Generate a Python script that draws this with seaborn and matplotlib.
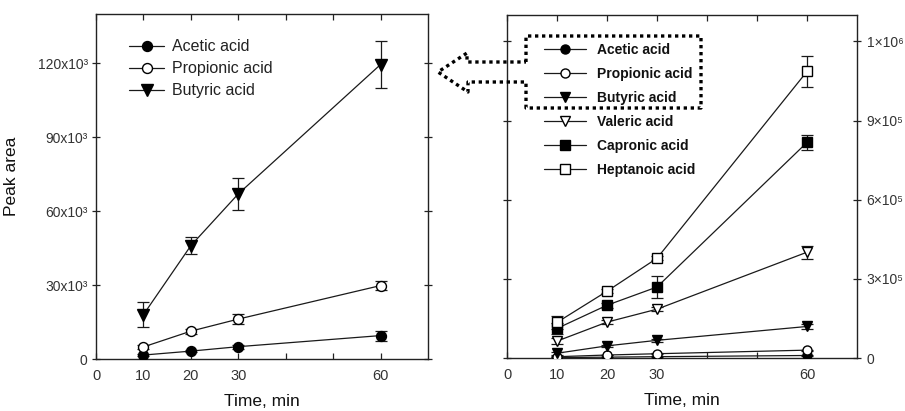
import numpy as np
import pandas as pd
import matplotlib
matplotlib.use("Agg")
import matplotlib.pyplot as plt
from matplotlib.lines import Line2D
from matplotlib.ticker import FixedLocator, FixedFormatter
import seaborn as sns

# Sampling times (min)
time = [10, 20, 30, 60]

# Mean peak areas and standard deviations per fatty acid
acetic = [1600, 3200, 5000, 9500]
acetic_sd = [300, 500, 800, 2000]
propionic = [4900, 11300, 16200, 29800]
propionic_sd = [800, 1000, 2000, 2000]
butyric = [18000, 46000, 67000, 119500]
butyric_sd = [5000, 3500, 6500, 9700]
valeric = [64000, 136000, 185000, 401000]
valeric_sd = [10000, 8000, 8000, 25000]
capronic = [112000, 200000, 269000, 817000]
capronic_sd = [20000, 10000, 42000, 30000]
heptanoic = [135000, 253000, 378000, 1086000]
heptanoic_sd = [25000, 8000, 8000, 60000]

names = ["Acetic acid", "Propionic acid", "Butyric acid",
         "Valeric acid", "Capronic acid", "Heptanoic acid"]
means = [acetic, propionic, butyric, valeric, capronic, heptanoic]
sds = [acetic_sd, propionic_sd, butyric_sd, valeric_sd, capronic_sd, heptanoic_sd]

x_ticks = [0, 10, 20, 30, 40, 50, 60]
x_labels = ["0", "10", "20", "30", "", "", "60"]
left_y_ticks = [0, 30000, 60000, 90000, 120000]
left_y_labels = ["0", "30x10³", "60x10³", "90x10³", "120x10³"]
right_y_ticks = [0, 300000, 600000, 900000, 1200000]
right_y_labels = ["0", "3×10⁵", "6×10⁵", "9×10⁵", "1×10⁶"]

rows = []
for n, m, s in zip(names, means, sds):
    for t, v, e in zip(time, m, s):
        rows.append({"acid": n, "time": t, "area": v, "sd": e})
df = pd.DataFrame(rows)

sns.set_theme(style="ticks")
plt.rcParams["font.family"] = ["Liberation Sans", "DejaVu Sans"]

styles = {
    "Acetic acid": dict(marker="o", mfc="black", ms=6.5),
    "Propionic acid": dict(marker="o", mfc="white", ms=6.5),
    "Butyric acid": dict(marker="v", mfc="black", ms=7.5),
    "Valeric acid": dict(marker="v", mfc="white", ms=7.5),
    "Capronic acid": dict(marker="s", mfc="black", ms=6.5),
    "Heptanoic acid": dict(marker="s", mfc="white", ms=6.5),
}
line_col = "#1a1a1a"

W, H = 905, 411
fig = plt.figure(figsize=(W / 100, H / 100), dpi=100)
fig.patch.set_facecolor("white")
ax1 = fig.add_axes([96 / W, 1 - 359 / H, 332 / W, 345 / H])
ax2 = fig.add_axes([507 / W, 1 - 358 / H, 350 / W, 343 / H])


def draw(ax, acids, scale_ms=1.0):
    handles = []
    for n in acids:
        sub = df[df["acid"] == n]
        st = styles[n]
        ax.errorbar(sub["time"], sub["area"], yerr=sub["sd"], fmt="none",
                    ecolor=line_col, elinewidth=0.9, capsize=4, capthick=0.9,
                    zorder=2)
        sns.lineplot(data=sub, x="time", y="area", ax=ax, color=line_col,
                     linewidth=0.9, marker=st["marker"], markersize=st["ms"] * scale_ms,
                     markerfacecolor=st["mfc"], markeredgecolor="black",
                     markeredgewidth=1.0, legend=False, zorder=3, errorbar=None)
        handles.append(Line2D([], [], color=line_col, linewidth=0.9,
                              marker=st["marker"], markersize=st["ms"] * scale_ms,
                              markerfacecolor=st["mfc"], markeredgecolor="black",
                              markeredgewidth=1.0, label=n))
    return handles


def frame(ax):
    for sp in ax.spines.values():
        sp.set_visible(True)
        sp.set_color("#222222")
        sp.set_linewidth(1.0)
    ax.set_xlim(0, 70)
    ax.xaxis.set_major_locator(FixedLocator(x_ticks))
    ax.xaxis.set_major_formatter(FixedFormatter(x_labels))
    ax.tick_params(axis="x", which="both", direction="in", length=4, width=0.9,
                   top=True, bottom=True, labelsize=10.5, labelcolor="#333333",
                   pad=7, color="#222222")
    ax.set_xlabel("Time, min", fontsize=12.5, color="#111111", labelpad=8)
    ax.grid(False)
    ax.set_facecolor("white")


# Left panel: short-chain acids
h1 = draw(ax1, names[:3], 1.1)
frame(ax1)
ax1.set_ylim(0, 140000)
ax1.yaxis.set_major_locator(FixedLocator(left_y_ticks))
ax1.yaxis.set_major_formatter(FixedFormatter(left_y_labels))
ax1.tick_params(axis="y", direction="inout", length=6, width=0.9, left=True,
                right=True, labelsize=10, labelcolor="#333333",
                color="#222222", pad=3)
ax1.set_ylabel("Peak area", fontsize=12.5, color="#111111")
ax1.yaxis.set_label_coords(-0.232, 0.53)
leg1 = ax1.legend(handles=h1, loc="upper left", bbox_to_anchor=(0.08, 0.945),
                  frameon=False, fontsize=11.5, handlelength=2.2,
                  handletextpad=0.5, labelspacing=0.44, borderaxespad=0)
for t in leg1.get_texts():
    t.set_color("#222222")

# Right panel: all six acids
h2 = draw(ax2, names, 1.0)
frame(ax2)
ax2.set_ylim(0, 1300000)
ax2.yaxis.set_major_locator(FixedLocator(right_y_ticks))
ax2.yaxis.set_major_formatter(FixedFormatter(right_y_labels))
ax2.yaxis.tick_right()
ax2.tick_params(axis="y", direction="inout", length=6, width=0.9, left=True,
                right=True, labelleft=False, labelright=True, labelsize=10,
                labelcolor="#333333", color="#222222", pad=4)
ax2.set_ylabel("")
leg2 = ax2.legend(handles=h2, loc="upper left", bbox_to_anchor=(0.09, 0.936),
                  frameon=False, handlelength=3.0, handletextpad=0.8,
                  labelspacing=0.73, borderaxespad=0,
                  prop=dict(weight="bold", size=10))
for t in leg2.get_texts():
    t.set_color("#111111")

# Dotted callout: box around the first three entries with an arrow to the left panel
outline_px = [(526, 62), (526, 36), (701, 36), (701, 108), (526, 108),
              (526, 82), (468, 82), (468, 92), (438, 72), (467, 53),
              (467, 62), (526, 62)]
fx = [p[0] / W for p in outline_px]
fy = [1 - p[1] / H for p in outline_px]
fig.add_artist(Line2D(fx, fy, transform=fig.transFigure, color="black",
                      linewidth=2.4, linestyle=(0, (1, 1.1)),
                      dash_capstyle="butt", zorder=10))

fig.savefig("out.png", dpi=100, facecolor="white")
